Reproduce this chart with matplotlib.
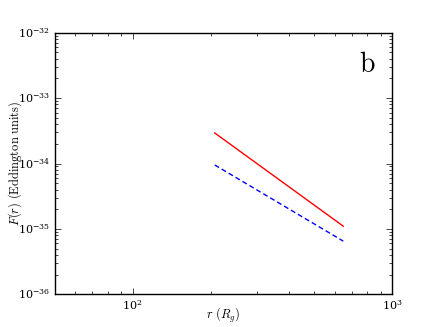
import matplotlib
matplotlib.use('Agg')
import matplotlib.pyplot as plt

plt.style.use('classic')
plt.rcParams['mathtext.fontset'] = 'cm'
plt.rcParams['font.family'] = 'serif'
plt.rcParams['font.serif'] = ['DejaVu Serif']

# radius (R_g) and flux values
r_red = [207, 647]
f_red = [2.93e-34, 1.10e-35]
r_blue = [207, 647]
f_blue = [9.5e-35, 6.5e-36]

fig = plt.figure(figsize=(4.36, 3.27), dpi=100)
fig.patch.set_facecolor('white')
ax = fig.add_subplot(111)

ax.loglog(r_red, f_red, color='red', linestyle='-', linewidth=1)
ax.loglog(r_blue, f_blue, color='blue', linestyle='--', linewidth=1,
          dashes=(3.6, 2.2))

ax.set_xlim(50, 1000)
ax.set_ylim(1e-36, 1e-32)
ax.set_xlabel(r'$r\ (R_g)$', fontsize=9, va='center')
ax.set_ylabel(r'$F(r)\ \mathrm{(Eddington\ units)}$', fontsize=9, va='center')
ax.xaxis.set_label_coords(0.5, -0.08)
ax.yaxis.set_label_coords(-0.118, 0.5)
ax.tick_params(labelsize=8, pad=3)
ax.text(0.95, 0.93, r'$\mathrm{b}$', transform=ax.transAxes, fontsize=20,
        ha='right', va='top')

fig.savefig('out.png', dpi=100, facecolor='white')
